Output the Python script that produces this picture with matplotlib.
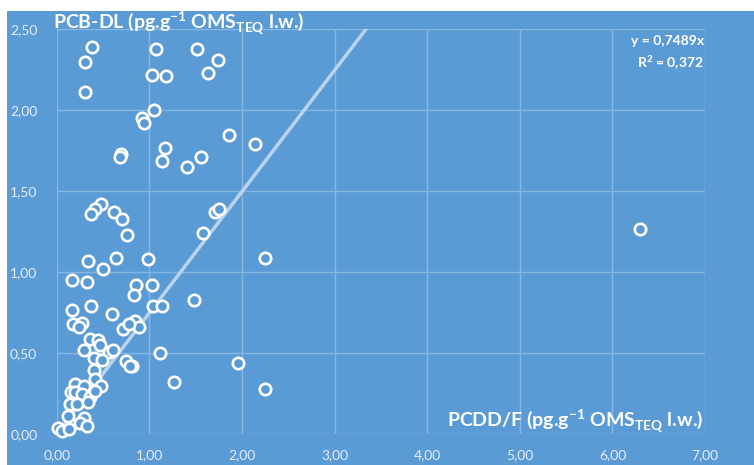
import matplotlib
matplotlib.use("Agg")
import matplotlib.pyplot as plt
from matplotlib.patches import Rectangle
import numpy as np

plt.rcParams['font.family'] = ['Lato', 'DejaVu Sans']
plt.rcParams['mathtext.fontset'] = 'custom'
plt.rcParams['mathtext.rm'] = 'Lato'
plt.rcParams['mathtext.bf'] = 'Lato:bold'

# PCDD/F (x) and PCB-DL (y) values
pcdd_f = [0.38, 0.31, 0.31, 1.07, 1.52, 1.74, 1.63, 1.03, 1.18, 1.05,
          0.92, 0.94, 1.86, 2.14, 0.69, 0.68, 1.17, 1.14, 1.56, 1.41,
          0.48, 0.41, 0.37, 0.62, 0.70, 0.76, 1.71, 1.75, 1.58, 2.25,
          6.30, 0.99, 0.86, 1.03, 0.83, 1.48, 1.04, 1.14, 0.85, 0.89,
          1.11, 1.96, 1.27, 2.25, 0.81, 0.34, 0.64, 0.50, 0.17, 0.33,
          0.17, 0.37, 0.60, 0.18, 0.27, 0.24, 0.72, 0.78, 0.36, 0.45,
          0.47, 0.30, 0.57, 0.61, 0.40, 0.49, 0.75, 0.79, 0.40, 0.41,
          0.48, 0.20, 0.30, 0.15, 0.20, 0.27, 0.36, 0.41, 0.14, 0.22,
          0.34, 0.12, 0.29, 0.25, 0.33, 0.01, 0.06, 0.13]
pcb_dl = [2.39, 2.30, 2.11, 2.38, 2.38, 2.31, 2.23, 2.22, 2.21, 2.00,
          1.95, 1.92, 1.85, 1.79, 1.73, 1.71, 1.77, 1.69, 1.71, 1.65,
          1.42, 1.39, 1.36, 1.37, 1.33, 1.23, 1.37, 1.39, 1.24, 1.09,
          1.27, 1.08, 0.92, 0.92, 0.86, 0.83, 0.79, 0.79, 0.70, 0.66,
          0.50, 0.44, 0.32, 0.28, 0.42, 1.07, 1.09, 1.02, 0.95, 0.94,
          0.77, 0.79, 0.74, 0.68, 0.69, 0.66, 0.65, 0.68, 0.59, 0.58,
          0.55, 0.52, 0.51, 0.52, 0.47, 0.46, 0.45, 0.42, 0.40, 0.34,
          0.30, 0.31, 0.30, 0.26, 0.26, 0.25, 0.23, 0.27, 0.19, 0.19,
          0.20, 0.11, 0.10, 0.07, 0.05, 0.04, 0.02, 0.03]
slope = 0.7489
x_ticks = [0, 1, 2, 3, 4, 5, 6, 7]
y_ticks = [0, 0.5, 1.0, 1.5, 2.0, 2.5]

W, H = 754, 465
bg = '#5B9BD5'
fig = plt.figure(figsize=(W / 100, H / 100), dpi=100, facecolor='white')
fig.patches.append(Rectangle((7 / W, 0), 1 - 7 / W, (H - 11) / H,
                             transform=fig.transFigure, facecolor=bg,
                             edgecolor='none', zorder=-10))

ax = fig.add_axes([56.7 / W, (H - 434.3) / H, (705 - 56.7) / W, (434.3 - 29.3) / H])
ax.set_facecolor(bg)
ax.set_xlim(0, 7)
ax.set_ylim(0, 2.5)
ax.set_xticks(x_ticks)
ax.set_yticks(y_ticks)
ax.set_xticklabels([f"{v:.2f}".replace('.', ',') for v in x_ticks])
ax.set_yticklabels([f"{v:.2f}".replace('.', ',') for v in y_ticks])
ax.tick_params(length=0, colors='#E3ECF7', labelsize=10)
ax.tick_params(axis='x', pad=11)
ax.tick_params(axis='y', pad=14)
for s in ax.spines.values():
    s.set_visible(False)
ax.grid(True, color='#86B6E2', linewidth=1.0)
ax.set_axisbelow(True)

xl = np.array([0, 7])
ax.plot(xl, slope * xl, color='#B9D3EE', linewidth=2.5, zorder=2, solid_capstyle='butt')

ax.plot(pcdd_f, pcb_dl, linestyle='none', marker='o', markersize=8.2,
        markerfacecolor=bg, markeredgecolor='white', markeredgewidth=1.9,
        zorder=3, clip_on=False)

ax.text(-0.006, 1.0, r'PCB-DL (pg.g$^{\mathbf{-1}}$ OMS$_{\mathbf{TEQ}}$ l.w.)',
        transform=ax.transAxes, color='white', fontsize=14.0, fontweight='bold',
        ha='left', va='baseline')
ax.text(0.998, 0.016, r'PCDD/F (pg.g$^{\mathbf{-1}}$ OMS$_{\mathbf{TEQ}}$ l.w.)',
        transform=ax.transAxes, color='white', fontsize=14.0, fontweight='bold',
        ha='right', va='baseline')
ax.text(0.998, 0.985, 'y = 0,7489x\nR$^{\\mathbf{2}}$ = 0,372', transform=ax.transAxes,
        color='white', fontsize=10, fontweight='bold', ha='right', va='top',
        linespacing=1.45)

fig.savefig('out.png', dpi=100, facecolor='white')
